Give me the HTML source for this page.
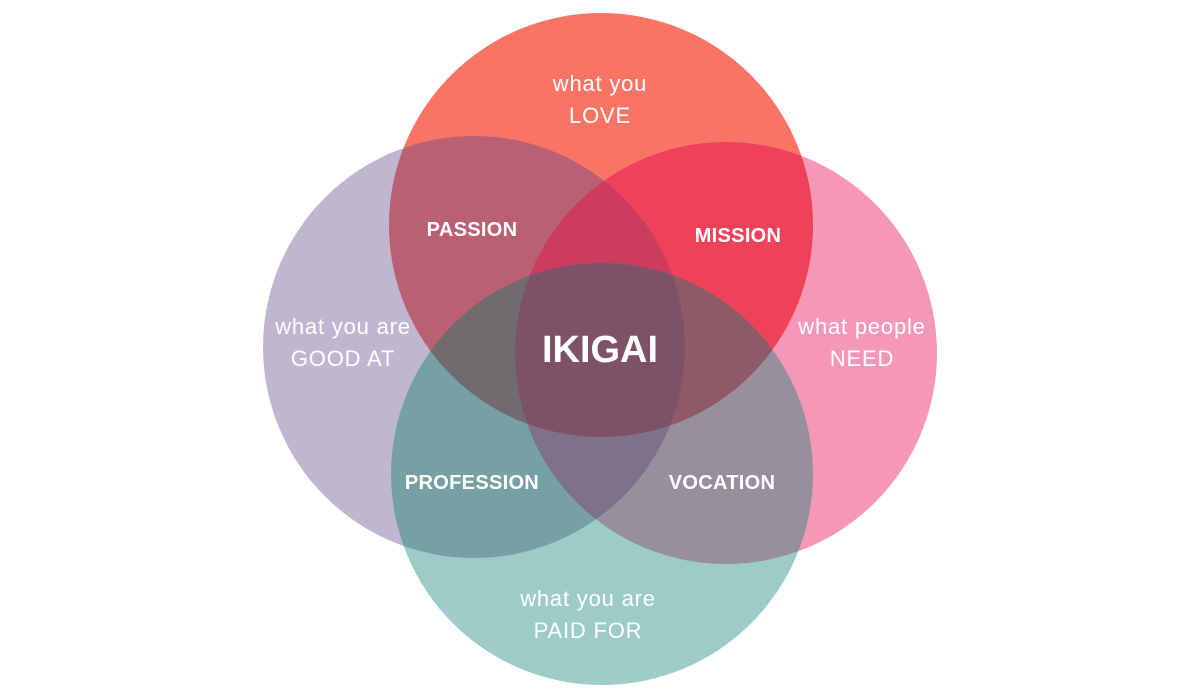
<!DOCTYPE html>
<html><head><meta charset="utf-8"><style>
html,body{margin:0;padding:0;background:#fff;width:1200px;height:700px;overflow:hidden}
svg{display:block}
.l{font-family:"Liberation Sans",sans-serif;font-size:22px;fill:#fff;font-weight:normal;letter-spacing:0.8px}
.b{font-family:"Liberation Sans",sans-serif;font-size:20px;fill:#fff;font-weight:bold;letter-spacing:0.3px}
</style></head><body>
<svg width="1200" height="700" viewBox="0 0 1200 700" xmlns="http://www.w3.org/2000/svg">
<defs>
<clipPath id="T"><circle cx="601" cy="225" r="212"/></clipPath>
<clipPath id="L"><circle cx="474" cy="347" r="211"/></clipPath>
<clipPath id="R"><circle cx="726" cy="353" r="211"/></clipPath>
<clipPath id="B"><circle cx="602" cy="474" r="211"/></clipPath>
</defs>
<circle cx="474" cy="347" r="211" fill="#bfb7d0"/>
<circle cx="726" cy="353" r="211" fill="#f598b6"/>
<circle cx="602" cy="474" r="211" fill="#9ccbc8"/>
<circle cx="601" cy="225" r="212" fill="#f87566"/>
<g clip-path="url(#T)"><circle cx="474" cy="347" r="211" fill="#b96172"/></g>
<g clip-path="url(#T)"><circle cx="726" cy="353" r="211" fill="#f0415a"/></g>
<g clip-path="url(#L)"><circle cx="602" cy="474" r="211" fill="#77a0a5"/></g>
<g clip-path="url(#R)"><circle cx="602" cy="474" r="211" fill="#988f9c"/></g>
<g clip-path="url(#L)"><circle cx="726" cy="353" r="211" fill="#7e5266"/></g>
<g clip-path="url(#T)"><circle cx="602" cy="474" r="211" fill="#7e5266"/></g>
<g clip-path="url(#T)"><g clip-path="url(#L)"><circle cx="726" cy="353" r="211" fill="#cc3c5e"/></g></g>
<g clip-path="url(#T)"><g clip-path="url(#L)"><circle cx="602" cy="474" r="211" fill="#716b70"/></g></g>
<g clip-path="url(#T)"><g clip-path="url(#R)"><circle cx="602" cy="474" r="211" fill="#8f5a66"/></g></g>
<g clip-path="url(#L)"><g clip-path="url(#R)"><circle cx="602" cy="474" r="211" fill="#7d7289"/></g></g>
<g clip-path="url(#T)"><g clip-path="url(#L)"><g clip-path="url(#R)"><circle cx="602" cy="474" r="211" fill="#7e5266"/></g></g></g>
<g text-anchor="middle">
<text class="l" x="600" y="91">what you</text>
<text class="l" x="600" y="123">LOVE</text>
<text class="l" x="343" y="334">what you are</text>
<text class="l" x="343" y="366">GOOD AT</text>
<text class="l" x="862" y="334">what people</text>
<text class="l" x="862" y="366">NEED</text>
<text class="l" x="588" y="606">what you are</text>
<text class="l" x="588" y="638">PAID FOR</text>
<text class="b" x="472" y="236">PASSION</text>
<text class="b" x="738" y="242">MISSION</text>
<text class="b" x="472" y="489">PROFESSION</text>
<text class="b" x="722" y="489">VOCATION</text>
<text x="600" y="362" font-family="Liberation Sans,sans-serif" font-size="38" font-weight="bold" fill="#fff">IKIGAI</text>
</g>
</svg>
</body></html>
